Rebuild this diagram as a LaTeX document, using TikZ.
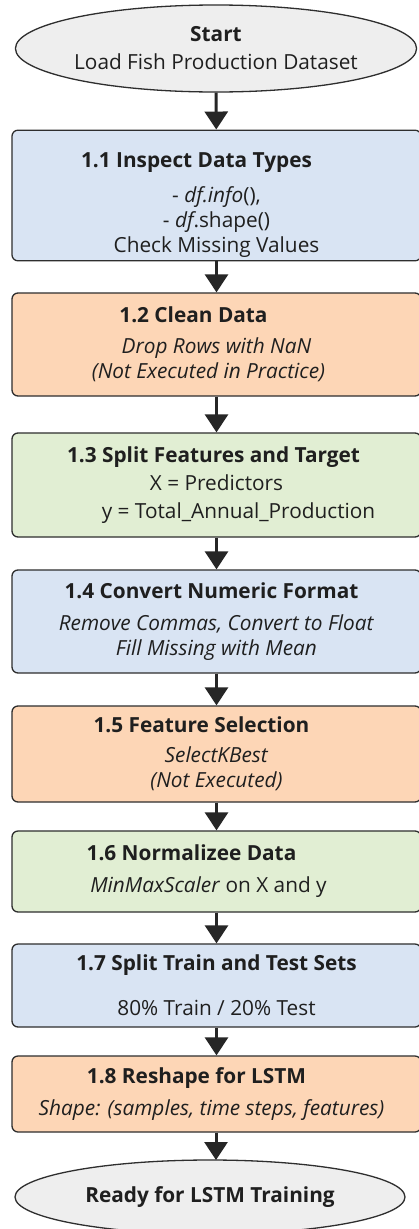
\documentclass[tikz,border=0pt]{standalone}
\usepackage{fontspec}
\setmainfont{Open Sans}
\usetikzlibrary{arrows.meta,shapes.geometric}
\definecolor{stepblue}{HTML}{D9E4F3}
\definecolor{steporange}{HTML}{FDD6B6}
\definecolor{stepgreen}{HTML}{E1EED3}
\definecolor{termgray}{HTML}{EEEEEE}
\definecolor{edgegray}{HTML}{2E2E2E}
\newcommand{\steptitle}[2][0pt]{\textbf{#2}\hspace*{#1}}
\begin{document}
\begin{tikzpicture}[x=1pt,y=1pt,
    stepbox/.style={draw=edgegray, line width=1.3pt, rounded corners=6pt,
        minimum width=409pt, align=center, text=black!88,
        font=\fontsize{20.8}{25}\selectfont},
    terminal/.style={ellipse, draw=edgegray, line width=1.3pt, fill=termgray,
        align=center, text=black!88, inner sep=0pt,
        font=\fontsize{20.8}{28}\selectfont},
    flow/.style={line width=3pt, draw=black!85,
        -{Triangle[width=23pt,length=18pt]}}]
    \useasboundingbox (0,0) rectangle (419,-1229);
    \fill[white] (0,0) rectangle (419,-1229);

    \node[terminal, minimum width=347pt, minimum height=87pt] (start) at (216,-48.5)
        {\textbf{Start}\\Load Fish Production Dataset};

    \node[stepbox, fill=stepblue, minimum height=125pt] (inspect) at (216.5,-195.5)
        {\rule{0pt}{34pt}\steptitle[40pt]{1.1 Inspect Data Types}\\[10pt]
         - \textit{df.info}(),\\- \textit{df}.shape()\\Check Missing Values};
    \node[stepbox, fill=steporange, minimum height=103pt] (clean) at (216.5,-344.5)
        {\steptitle[46pt]{1.2 Clean Data}\\[6pt]
         \textit{Drop Rows with NaN}\hspace*{20pt}\\\textit{(Not Executed in Practice)}\hspace*{16pt}};
    \node[stepbox, fill=stepgreen, minimum height=104pt] (split) at (216.5,-485)
        {\steptitle[6pt]{1.3 Split Features and Target}\\[3pt]
         X = Predictors\hspace*{80pt}\\[3pt]\hspace*{44pt}y = Total\_Annual\_Production};
    \node[stepbox, fill=stepblue, minimum height=103pt] (convert) at (216.5,-621.5)
        {\steptitle[10pt]{1.4 Convert Numeric Format}\\[7pt]
         \textit{Remove Commas, Convert to Float}\hspace*{16pt}\\\textit{Fill Missing with Mean}};
    \node[stepbox, fill=steporange, minimum height=96pt] (select) at (216.5,-754)
        {\steptitle[30pt]{1.5 Feature Selection}\\[5pt]
         \textit{SelectKBest}\\\textit{(Not Executed)}};
    \node[stepbox, fill=stepgreen, minimum height=81pt] (normal) at (216.5,-871.5)
        {\steptitle[50pt]{1.6 Normalizee Data}\\[7pt]
         \textit{MinMaxScaler} on X and y\hspace*{16pt}};
    \node[stepbox, fill=stepblue, minimum height=83pt] (trainsplit) at (216.5,-985.5)
        {\steptitle{1.7 Split Train and Test Sets}\\[20pt]
         80\% Train / 20\% Test};
    \node[stepbox, fill=steporange, minimum height=76pt] (reshape) at (216.5,-1094)
        {\steptitle[40pt]{1.8 Reshape for LSTM}\\[7pt]
         \textit{Shape: (samples, time steps, features)}\hspace*{10pt}};

    \node[terminal, minimum width=390pt, minimum height=74pt] (ready) at (210,-1197)
        {\textbf{Ready for LSTM Training}};

    % arrows between the steps
    \draw[flow] (start) -- (inspect);
    \draw[flow] (inspect) -- (clean);
    \draw[flow] (clean) -- (split);
    \draw[flow] (split) -- (convert);
    \draw[flow] (convert) -- (select);
    \draw[flow] (select) -- (normal);
    \draw[flow] (normal) -- (trainsplit);
    \draw[flow] (trainsplit) -- (reshape);
    \draw[flow] (reshape.south -| 216,0) -- (216,-1160);
\end{tikzpicture}
\end{document}
